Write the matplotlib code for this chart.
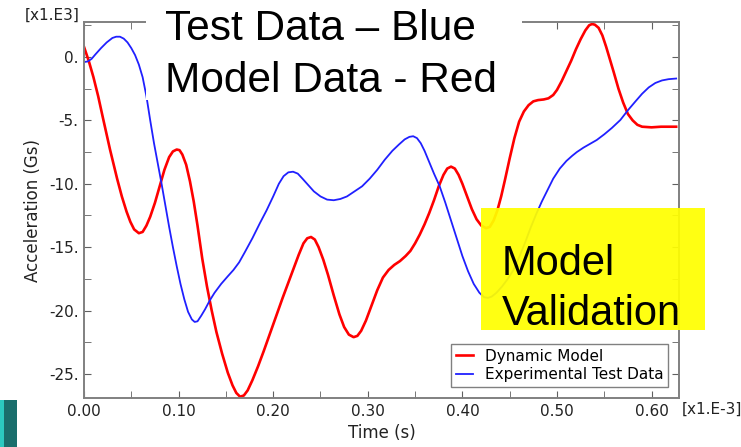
import numpy as np
import matplotlib.pyplot as plt
from matplotlib.patches import Rectangle
from matplotlib.ticker import MultipleLocator

# Dynamic Model (red), time in [x1.E-3] s, accel in [x1.E3] Gs
model_t = [0.000, 0.005, 0.010, 0.015, 0.020, 0.0275, 0.035, 0.040, 0.045, 0.049,
           0.053, 0.058, 0.062, 0.066, 0.070, 0.075, 0.080, 0.085, 0.090, 0.094,
           0.098, 0.101, 0.104, 0.108, 0.112, 0.116, 0.120, 0.125, 0.130, 0.135,
           0.140, 0.146, 0.152, 0.157, 0.161, 0.165, 0.169, 0.173, 0.178, 0.184,
           0.190, 0.200, 0.210, 0.220, 0.227, 0.232, 0.236, 0.240, 0.244, 0.248,
           0.253, 0.258, 0.264, 0.270, 0.275, 0.280, 0.285, 0.289, 0.293, 0.298,
           0.304, 0.310, 0.316, 0.322, 0.328, 0.334, 0.340, 0.345, 0.350, 0.355,
           0.360, 0.365, 0.370, 0.375, 0.380, 0.384, 0.388, 0.392, 0.396, 0.400,
           0.405, 0.410, 0.415, 0.420, 0.425, 0.429, 0.433, 0.437, 0.441, 0.445,
           0.450, 0.455, 0.460, 0.465, 0.470, 0.475, 0.480, 0.486, 0.491, 0.496,
           0.500, 0.505, 0.510, 0.515, 0.520, 0.525, 0.530, 0.534, 0.537, 0.540,
           0.544, 0.548, 0.552, 0.556, 0.560, 0.565, 0.570, 0.575, 0.580, 0.585,
           0.590, 0.600, 0.610, 0.626]
model_a = [0.8, -0.3, -1.6, -3.1, -4.8, -7.3, -9.6, -11.0, -12.2, -13.0,
           -13.6, -13.9, -13.8, -13.3, -12.6, -11.5, -10.2, -8.9, -7.9, -7.45,
           -7.3, -7.35, -7.7, -8.5, -9.8, -11.4, -13.3, -15.9, -18.1, -20.0,
           -21.7, -23.4, -24.9, -25.9, -26.5, -26.8, -26.7, -26.3, -25.5, -24.4,
           -23.2, -21.1, -19.0, -17.0, -15.6, -14.7, -14.3, -14.2, -14.4, -15.0,
           -16.0, -17.2, -18.8, -20.3, -21.3, -21.9, -22.1, -22.0, -21.6, -20.8,
           -19.6, -18.4, -17.4, -16.8, -16.4, -16.1, -15.7, -15.3, -14.7, -14.0,
           -13.2, -12.3, -11.3, -10.2, -9.3, -8.8, -8.65, -8.8, -9.3, -10.0,
           -11.0, -12.0, -12.8, -13.3, -13.5, -13.4, -12.9, -12.1, -11.0, -9.7,
           -8.0, -6.4, -5.1, -4.3, -3.8, -3.5, -3.4, -3.35, -3.26, -3.0,
           -2.6, -1.9, -1.1, -0.3, 0.6, 1.4, 2.1, 2.5, 2.6, 2.55,
           2.3, 1.7, 0.8, -0.2, -1.2, -2.5, -3.6, -4.5, -5.0, -5.35,
           -5.5, -5.55, -5.5, -5.5]

# Experimental Test Data (blue)
test_t = [0.000, 0.004, 0.008, 0.012, 0.018, 0.024, 0.030, 0.034, 0.038, 0.042,
          0.046, 0.050, 0.054, 0.058, 0.062, 0.066, 0.070, 0.074, 0.078, 0.082,
          0.086, 0.090, 0.094, 0.098, 0.102, 0.106, 0.110, 0.114, 0.117, 0.120,
          0.124, 0.128, 0.133, 0.138, 0.145, 0.152, 0.158, 0.164, 0.170, 0.178,
          0.186, 0.193, 0.200, 0.206, 0.211, 0.216, 0.221, 0.226, 0.231, 0.237,
          0.243, 0.250, 0.257, 0.264, 0.271, 0.278, 0.286, 0.294, 0.302, 0.310,
          0.318, 0.326, 0.333, 0.339, 0.344, 0.348, 0.352, 0.356, 0.360, 0.365,
          0.370, 0.376, 0.382, 0.388, 0.394, 0.400, 0.406, 0.412, 0.418, 0.423,
          0.427, 0.431, 0.436, 0.442, 0.448, 0.454, 0.460, 0.466, 0.472, 0.478,
          0.484, 0.490, 0.496, 0.503, 0.510, 0.516, 0.521, 0.528, 0.535, 0.542,
          0.550, 0.558, 0.567, 0.575, 0.583, 0.590, 0.597, 0.604, 0.611, 0.618,
          0.626]
test_a = [-0.4, -0.35, -0.15, 0.2, 0.7, 1.15, 1.5, 1.6, 1.6, 1.45,
          1.15, 0.7, 0.15, -0.6, -1.6, -3.1, -5.0, -6.8, -8.4, -10.0,
          -11.7, -13.4, -15.0, -16.5, -17.9, -19.1, -20.1, -20.7, -20.9, -20.85,
          -20.4, -19.9, -19.2, -18.6, -17.9, -17.3, -16.8, -16.2, -15.4, -14.3,
          -13.1, -12.1, -11.0, -10.0, -9.4, -9.1, -9.05, -9.2, -9.6, -10.1,
          -10.6, -11.0, -11.25, -11.3, -11.2, -11.0, -10.6, -10.2, -9.6, -8.9,
          -8.1, -7.4, -6.9, -6.5, -6.3, -6.25, -6.4, -6.8, -7.4, -8.3,
          -9.2, -10.2, -11.5, -12.9, -14.3, -15.7, -16.9, -17.9, -18.6, -18.95,
          -19.0, -18.9, -18.6, -18.1, -17.5, -16.8, -15.8, -14.7, -13.5, -12.4,
          -11.4, -10.5, -9.6, -8.8, -8.2, -7.8, -7.5, -7.15, -6.85, -6.55,
          -6.1, -5.6, -4.97, -4.2, -3.5, -2.9, -2.4, -2.05, -1.85, -1.75,
          -1.7]

W, H = 741, 447
fig = plt.figure(figsize=(W / 100, H / 100), dpi=100)
ax = fig.add_axes([84 / W, 1 - 398 / H, (679 - 84) / W, (398 - 22) / H])

ax.plot(model_t, model_a, color='#ff0000', lw=1.9, label='Dynamic Model',
        solid_joinstyle='round')
ax.plot(test_t, test_a, color='#2020ff', lw=1.3, label='Experimental Test Data',
        solid_joinstyle='round')

ax.set_xlim(0, 0.629)
ax.set_ylim(-26.9, 2.76)
ax.xaxis.set_major_locator(MultipleLocator(0.1))
ax.xaxis.set_minor_locator(MultipleLocator(0.05))
ax.yaxis.set_major_locator(MultipleLocator(5))
ax.yaxis.set_minor_locator(MultipleLocator(2.5))
ax.xaxis.set_major_formatter(lambda v, p: '%.2f' % v)
ax.yaxis.set_major_formatter(lambda v, p: '%d.' % round(v))
ax.tick_params(which='both', direction='in', top=True, right=True,
               color='#606060', labelsize=11, labelcolor='#222222')
ax.tick_params(which='major', length=5, pad=4)
ax.tick_params(which='minor', length=5)
for s in ax.spines.values():
    s.set_color('#808080')
    s.set_linewidth(1.4)

ax.set_xlabel('Time (s)', fontsize=12, color='#222222', labelpad=4)
ax.set_ylabel('Acceleration (Gs)', fontsize=12, color='#222222', labelpad=5)

leg = ax.legend(loc='lower right', bbox_to_anchor=(668 / W, 1 - 387 / H),
                bbox_transform=fig.transFigure, fontsize=11, frameon=True,
                fancybox=False, handlelength=1.1, borderpad=0.3,
                labelspacing=0.25, borderaxespad=0, framealpha=1)
leg.get_frame().set_edgecolor('#808080')
leg.get_frame().set_linewidth(1.0)

fig.text(25 / W, 1 - 15 / H, '[x1.E3]', fontsize=11, color='#222222',
         va='center', ha='left')
fig.text(682 / W, 1 - 409 / H, '[x1.E-3]', fontsize=11, color='#222222',
         va='center', ha='left')

# white title box over the plot
fig.add_artist(Rectangle((146 / W, 1 - 100 / H), (522 - 146) / W, 100 / H,
                         transform=fig.transFigure, facecolor='white',
                         edgecolor='none', zorder=5))
fig.text(165 / W, 1 - 40 / H, 'Test Data \u2013 Blue', fontsize=30.5,
         family='Liberation Sans', va='baseline', zorder=6)
fig.text(165 / W, 1 - 92 / H, 'Model Data - Red', fontsize=30.5,
         family='Liberation Sans', va='baseline', zorder=6)

# yellow callout
fig.add_artist(Rectangle((481 / W, 1 - 330 / H), (705 - 481) / W, (330 - 208) / H,
                         transform=fig.transFigure, facecolor='#ffff00',
                         alpha=0.93, edgecolor='none', zorder=5))
fig.text(502 / W, 1 - 275 / H, 'Model', fontsize=30,
         family='Liberation Sans', va='baseline', zorder=6)
fig.text(502 / W, 1 - 325 / H, 'Validation', fontsize=30,
         family='Liberation Sans', va='baseline', zorder=6)

# teal slide corner
fig.add_artist(Rectangle((0, 0), 17 / W, 47 / H, transform=fig.transFigure,
                         facecolor='#1a6e6c', edgecolor='none', zorder=5))
fig.add_artist(Rectangle((0, 0), 4 / W, 47 / H, transform=fig.transFigure,
                         facecolor='#2cc9c0', edgecolor='none', zorder=5))

fig.savefig('out.png', dpi=100)
